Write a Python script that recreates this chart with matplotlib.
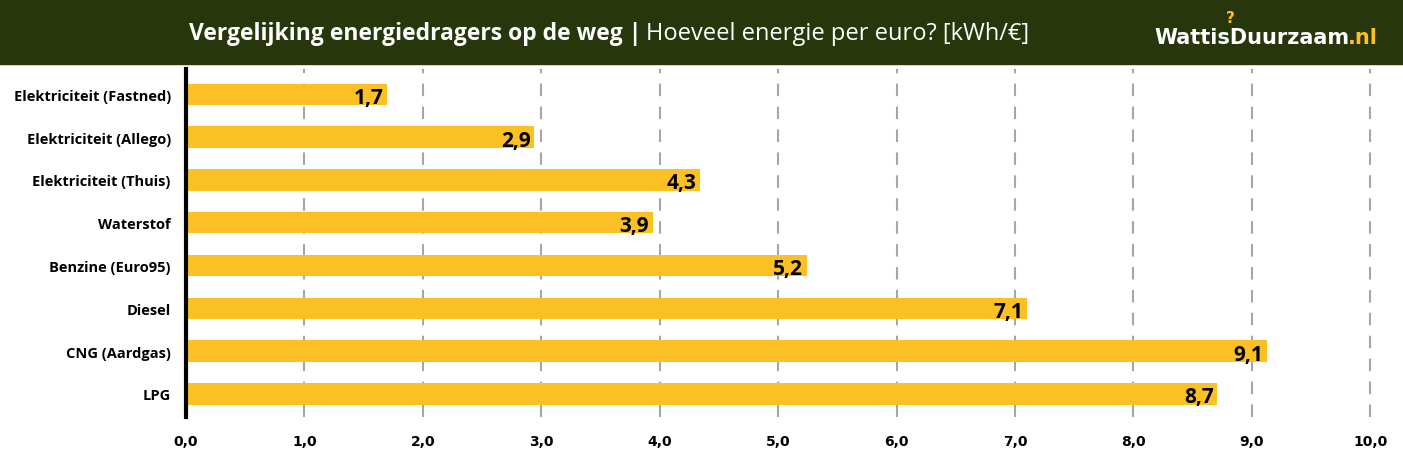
import matplotlib.pyplot as plt
from matplotlib.patches import Rectangle

categories = ['Elektriciteit (Fastned)', 'Elektriciteit (Allego)', 'Elektriciteit (Thuis)',
              'Waterstof', 'Benzine (Euro95)', 'Diesel', 'CNG (Aardgas)', 'LPG']
kwh_per_euro = [1.70, 2.94, 4.34, 3.94, 5.24, 7.10, 9.13, 8.71]
xticks = [0, 1, 2, 3, 4, 5, 6, 7, 8, 9, 10]

bar_color = '#FBC124'
header_color = '#27360B'

fig = plt.figure(figsize=(14.03, 4.64), dpi=100)

# header band
fig.patches.append(Rectangle((0, 0.86), 1, 0.14, transform=fig.transFigure,
                             color=header_color, zorder=0))
fig.text(0.135, 0.927, 'Vergelijking energiedragers op de weg |', color='white',
         fontsize=16.5, fontweight='bold', family='Open Sans', ha='left', va='center')
fig.text(0.4605, 0.927, 'Hoeveel energie per euro? [kWh/€]', color='white',
         fontsize=17, family='Open Sans', ha='left', va='center')
# logo
fig.text(0.823, 0.918, 'WattisDuurzaam', color='white', fontsize=15, fontweight='bold',
         family='DejaVu Sans', ha='left', va='center')
fig.text(0.9605, 0.918, '.nl', color=bar_color, fontsize=15, fontweight='bold',
         family='DejaVu Sans', ha='left', va='center')
fig.text(0.877, 0.96, '?', color=bar_color, fontsize=11, fontweight='bold',
         family='DejaVu Sans', ha='center', va='center')

ax = fig.add_axes([0.1326, 0.099, 0.8567, 0.75])
y = list(range(len(categories)))
ax.barh(y, kwh_per_euro, height=0.5, color=bar_color, zorder=3)

for yi, v in zip(y, kwh_per_euro):
    ax.text(v - 0.03, yi + 0.07, f'{v:.1f}'.replace('.', ','), ha='right', va='center',
            fontsize=15, fontweight='bold', family='Open Sans', color='black', zorder=4)

ax.set_xlim(0, 10.15)
ax.set_ylim(len(categories) - 0.46, -0.59)
ax.set_xticks(xticks)
ax.set_xticklabels([f'{t:.1f}'.replace('.', ',') for t in xticks],
                   fontsize=10, fontweight='bold', family='DejaVu Sans')
ax.set_yticks(y)
ax.set_yticklabels(categories, fontsize=10.5, fontweight='bold', family='Open Sans')
ax.tick_params(axis='both', length=0)
ax.tick_params(axis='x', pad=12)
ax.tick_params(axis='y', pad=11)

ax.grid(axis='x', color='#A6A6A6', linestyle=(0, (6, 5)), linewidth=1.5, zorder=1)
for s in ['top', 'right', 'bottom']:
    ax.spines[s].set_visible(False)
ax.spines['left'].set_linewidth(3)
ax.spines['left'].set_color('black')
ax.spines['left'].set_zorder(5)

fig.savefig('out.png', dpi=100)
